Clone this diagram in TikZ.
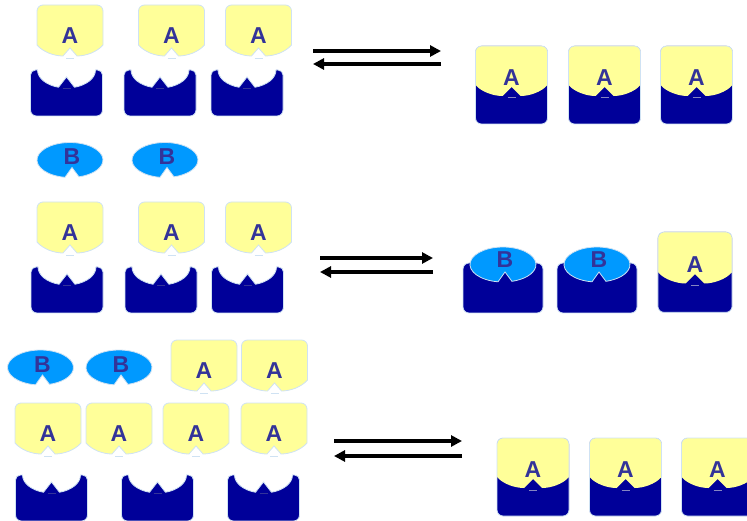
\documentclass[tikz,border=0pt]{standalone}
\usepackage{fontspec}
\setsansfont{Liberation Sans}
\usetikzlibrary{arrows.meta}

\definecolor{ligandyellow}{HTML}{FFFF99}
\definecolor{receptorblue}{HTML}{000099}
\definecolor{blockerblue}{HTML}{0099FF}
\definecolor{labelblue}{HTML}{333399}
\definecolor{rimblue}{HTML}{CFE2F3}

\begin{document}
\begin{tikzpicture}[x=1pt, y=-1pt]
    \tikzstyle{rim} = [draw=rimblue, line width=0.8pt]
    \tikzstyle{lig} = [rim, fill=ligandyellow]
    \tikzstyle{rec} = [rim, fill=receptorblue]
    \tikzstyle{blk} = [rim, fill=blockerblue]
    \tikzstyle{letter} = [text=labelblue, inner sep=0pt,
        font=\fontsize{23}{23}\selectfont\sffamily\bfseries]
    \tikzstyle{line} = [draw, line width=3.2pt, -{Triangle[length=11pt, width=11pt]}]

    \tikzset{
        % free agonist, origin at the top centre
        ligA/.pic={
            \path[lig] (-33,40) -- (-33,6) arc[start angle=180, end angle=270, radius=6]
                -- (27,0) arc[start angle=270, end angle=360, radius=6]
                -- (33,40) .. controls (27,47) and (16,51) .. (7,51) -- (0,43)
                -- (-7,51) .. controls (-16,51) and (-27,47) .. (-33,40) -- cycle;
            \draw[rimblue, line width=1pt] (-4,53.5) -- (4,53.5);
            \node[letter] (-lbl) at (0,31) {A};
        },
        % free competitor, origin at the ellipse centre
        ligB/.pic={
            \path[blk] (2,7.5) -- (-5,17.3)
                arc[start angle=98.7, end angle=434.2, x radius=33, y radius=17.5] -- cycle;
            \node[letter] (-lbl) at (2,-3) {B};
        },
        % empty receptor with its binding pocket
        rec/.pic={
            \path[rec] (-29,0) arc[start angle=180, end angle=106, x radius=29, y radius=18]
                -- (0,7) -- (8,17.3) arc[start angle=74, end angle=0, x radius=29, y radius=18]
                -- (31,0) arc[start angle=270, end angle=360, radius=5]
                -- (36,40) arc[start angle=0, end angle=90, radius=6]
                -- (-30,46) arc[start angle=90, end angle=180, radius=6]
                -- (-36,5) arc[start angle=180, end angle=270, radius=5] -- cycle;
            \draw[labelblue, line width=1pt] (-4,18.5) -- (4,18.5);
        },
        % receptor occupied by A
        cpxA/.pic={
            \fill[receptorblue, rounded corners=6] (-36,0) rectangle (36,78);
            \fill[ligandyellow] (-36,39) -- (-36,6) arc[start angle=180, end angle=270, radius=6]
                -- (30,0) arc[start angle=270, end angle=360, radius=6]
                -- (36,39) .. controls (30,46) and (18,50) .. (9,50) -- (0,41)
                -- (-9,50) .. controls (-18,50) and (-30,46) .. (-36,39) -- cycle;
            \draw[rim, rounded corners=6] (-36,0) rectangle (36,78);
            \draw[labelblue!60!white, line width=1pt] (-4,52) -- (4,52);
            \node[letter] (-lbl) at (0,32) {A};
        },
        % receptor occupied by B
        cpxB/.pic={
            \path[rec, rounded corners=6] (-40,0) rectangle (40,50);
            \begin{scope}[shift={(0,1.5)}]
                \path[blk] (2,7.5) -- (-5,17.3)
                    arc[start angle=98.7, end angle=434.2, x radius=33, y radius=17.5] -- cycle;
                \node[letter] (-lbl) at (2,-5) {B};
            \end{scope}
        }
    }

    \useasboundingbox (0,0) rectangle (747,521);
    \clip (0,0) rectangle (747,521);

    % A alone
    \pic (a11) at (70,5) {ligA};
    \pic (a12) at (171.5,5) {ligA};
    \pic (a13) at (258.5,5) {ligA};
    \pic (r11) at (66.5,70) {rec};
    \pic (r12) at (160,70) {rec};
    \pic (r13) at (247,70) {rec};
    \pic (c11) at (511.5,46) {cpxA};
    \pic (c12) at (604.5,46) {cpxA};
    \pic (c13) at (696.5,46) {cpxA};

    \coordinate (f1l) at (313,51);
    \coordinate (f1r) at (441,51);
    \coordinate (b1r) at (441,64);
    \coordinate (b1l) at (313,64);
    \path [line] (f1l) -- (f1r);
    \path [line] (b1r) -- (b1l);

    % A with B
    \pic (b21) at (70,160) {ligB};
    \pic (b22) at (165,160) {ligB};
    \pic (a21) at (70,202) {ligA};
    \pic (a22) at (171.5,202) {ligA};
    \pic (a23) at (258.5,202) {ligA};
    \pic (r21) at (67,267) {rec};
    \pic (r22) at (161,267) {rec};
    \pic (r23) at (247.5,267) {rec};
    \pic (c21) at (503,263) {cpxB};
    \pic (c22) at (597,263) {cpxB};
    \pic[scale=1.03] (c23) at (695,232) {cpxA};

    \coordinate (f2l) at (320,258);
    \coordinate (f2r) at (433,258);
    \coordinate (b2r) at (433,272);
    \coordinate (b2l) at (320,272);
    \path [line] (f2l) -- (f2r);
    \path [line] (b2r) -- (b2l);

    % more A added
    \pic (b31) at (40.5,367.5) {ligB};
    \pic (b32) at (119,367.5) {ligB};
    \pic (a31) at (204,340) {ligA};
    \pic (a32) at (274.5,340) {ligA};
    \pic (a33) at (48,403) {ligA};
    \pic (a34) at (119,403) {ligA};
    \pic (a35) at (196,403) {ligA};
    \pic (a36) at (274,403) {ligA};
    \pic (r31) at (51.5,475) {rec};
    \pic (r32) at (157.5,475) {rec};
    \pic (r33) at (263.5,475) {rec};
    \pic (c31) at (533,438) {cpxA};
    \pic (c32) at (625.5,438) {cpxA};
    \pic (c33) at (717.5,438) {cpxA};

    \coordinate (f3l) at (334,441);
    \coordinate (f3r) at (462,441);
    \coordinate (b3r) at (462,456);
    \coordinate (b3l) at (334,456);
    \path [line] (f3l) -- (f3r);
    \path [line] (b3r) -- (b3l);
\end{tikzpicture}
\end{document}
